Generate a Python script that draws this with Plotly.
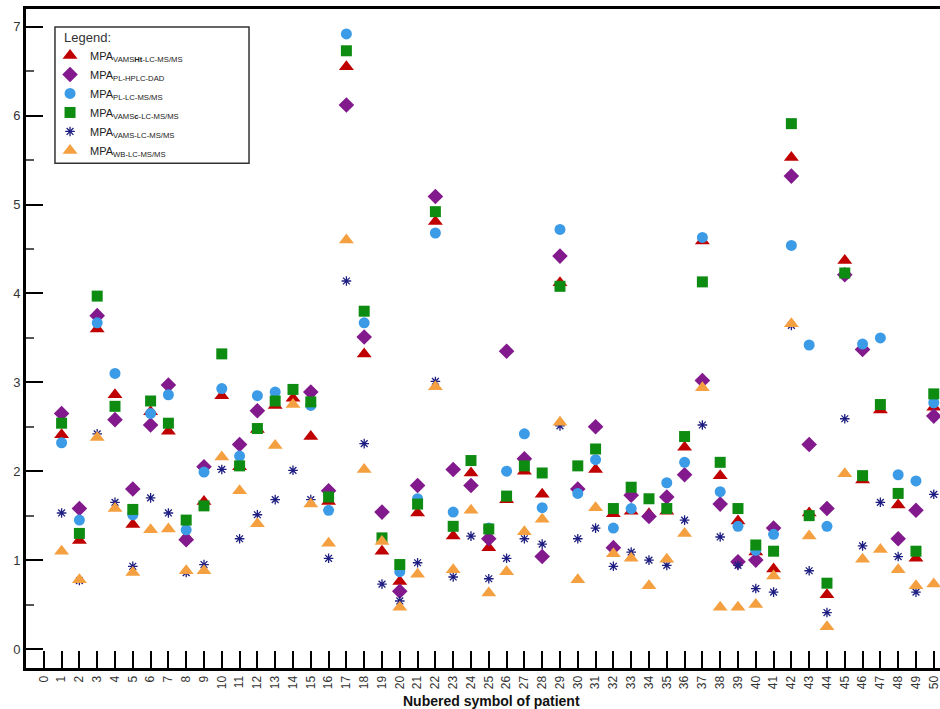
import plotly.graph_objects as go

patients = list(range(1, 51))
tick_vals = list(range(0, 51))
tick_text = [str(v) for v in tick_vals]
y_tick_vals = [0, 1, 2, 3, 4, 5, 6, 7]

# MPA VAMS Ht LC-MS/MS (red triangles)
vams_ht = [2.41, 1.22, 3.60, 2.86, 1.40, 2.67, 2.45, 1.26, 1.66, 2.85,
           2.05, 2.47, 2.74, 2.82, 2.39, 1.66, 6.55, 3.32, 1.10, 0.76,
           1.53, 4.81, 1.27, 1.98, 1.14, 1.68, 2.00, 1.74, 4.12, None,
           2.02, 1.52, 1.55, 1.52, 1.55, 2.27, 4.59, 1.95, 1.44, 1.09,
           0.90, 5.53, 1.53, 0.61, 4.37, 1.90, 2.69, 1.62, 1.02, 2.72]
# MPA PL HPLC-DAD (purple diamonds)
pl_hplc = [2.65, 1.58, 3.75, 2.58, 1.80, 2.52, 2.97, 1.23, 2.05, None,
           2.30, 2.68, None, None, 2.89, 1.78, 6.12, 3.51, 1.54, 0.65,
           1.84, 5.09, 2.02, 1.84, 1.24, 3.35, 2.14, 1.04, 4.42, 1.80,
           2.50, 1.14, 1.73, 1.49, 1.71, 1.96, 3.02, 1.63, 0.98, 1.00,
           1.36, 5.32, 2.30, 1.58, 4.21, 3.37, None, 1.24, 1.56, 2.62]
# MPA PL LC-MS/MS (blue circles)
pl_lcms = [2.32, 1.45, 3.67, 3.10, 1.51, 2.65, 2.86, 1.34, 1.99, 2.93,
           2.17, 2.85, 2.89, None, 2.74, 1.56, 6.92, 3.67, None, 0.87,
           1.69, 4.68, 1.54, None, 1.36, 2.00, 2.42, 1.59, 4.72, 1.75,
           2.13, 1.36, 1.58, None, 1.87, 2.10, 4.63, 1.77, 1.38, 1.11,
           1.29, 4.54, 3.42, 1.38, None, 3.43, 3.50, 1.96, 1.89, 2.77]
# MPA VAMS c LC-MS/MS (green squares)
vams_c = [2.54, 1.30, 3.97, 2.73, 1.57, 2.79, 2.54, 1.45, 1.61, 3.32,
          2.06, 2.48, 2.79, 2.92, 2.78, 1.71, 6.73, 3.80, 1.25, 0.95,
          1.63, 4.92, 1.38, 2.12, 1.35, 1.72, 2.06, 1.98, 4.08, 2.06,
          2.25, 1.58, 1.82, 1.69, 1.58, 2.39, 4.13, 2.10, 1.58, 1.17,
          1.10, 5.91, 1.50, 0.74, 4.23, 1.95, 2.75, 1.75, 1.10, 2.87]
# MPA VAMS LC-MS/MS (navy asterisks)
vams = [1.53, 0.77, 2.42, 1.65, 0.93, 1.70, 1.53, 0.86, 0.95, 2.02,
        1.24, 1.51, 1.68, 2.01, 1.68, 1.02, 4.14, 2.31, 0.73, 0.54,
        0.97, 3.01, 0.81, 1.27, 0.79, 1.02, 1.24, 1.18, 2.51, 1.24,
        1.36, 0.93, 1.09, 1.00, 0.94, 1.45, 2.52, 1.26, 0.94, 0.68,
        0.64, 3.64, 0.88, 0.41, 2.59, 1.16, 1.65, 1.04, 0.64, 1.74]
# MPA WB LC-MS/MS (orange triangles)
wb = [1.10, 0.78, 2.38, 1.58, 0.86, 1.34, 1.35, 0.88, 0.88, 2.16,
      1.78, 1.41, 2.29, 2.75, 1.63, 1.19, 4.60, 2.02, 1.21, 0.47,
      0.84, 2.95, 0.89, 1.56, 0.63, 0.87, 1.32, 1.46, 2.55, 0.78,
      1.59, 1.07, 1.02, 0.71, 1.01, 1.30, 2.94, 0.47, 0.47, 0.50,
      0.82, 3.66, 1.27, 0.25, 1.97, 1.01, 1.12, 0.89, 0.71, 0.73]

FONT = "Liberation Sans, Arial, sans-serif"

series = [
    ("MPA<sub>VAMS<b>Ht</b>-LC-MS/MS</sub>", vams_ht,
     dict(symbol="triangle-up", size=13, color="#C00000")),
    ("MPA<sub>PL-HPLC-DAD</sub>", pl_hplc,
     dict(symbol="diamond", size=12, color="#82198C")),
    ("MPA<sub>PL-LC-MS/MS</sub>", pl_lcms,
     dict(symbol="circle", size=11, color="#3C9BE6")),
    ("MPA<sub>VAMS<b>c</b>-LC-MS/MS</sub>", vams_c,
     dict(symbol="square", size=11, color="#0E8C12")),
    ("MPA<sub>VAMS-LC-MS/MS</sub>", vams,
     dict(symbol="asterisk-open", size=8, color="#1E1E82",
          line=dict(color="#1E1E82", width=1.3))),
    ("MPA<sub>WB-LC-MS/MS</sub>", wb,
     dict(symbol="triangle-up", size=13, color="#F5A040")),
]

fig = go.Figure()
for name, vals, mk in series:
    fig.add_trace(go.Scatter(x=patients, y=vals, mode="markers", name=name,
                             marker=mk, cliponaxis=False))

fig.update_layout(
    width=940, height=709,
    margin=dict(l=26, r=0, t=9, b=41),
    paper_bgcolor="white", plot_bgcolor="white",
    font=dict(family=FONT, color="#333333"),
    showlegend=True,
    legend=dict(
        x=0.0263, y=0.9515, xanchor="left", yanchor="top",
        borderwidth=0, bgcolor="rgba(255,255,255,0)",
        font=dict(size=11, color="#222222"),
        tracegroupgap=0,
    ),
    shapes=[dict(
        type="rect", xref="paper", yref="paper",
        x0=0.0317, x1=0.244, y0=0.766, y1=0.9727,
        line=dict(color="#333333", width=1.5), fillcolor="rgba(255,255,255,0)",
        layer="below",
    )],
    xaxis=dict(
        range=[-1, 50.35], tickmode="array", tickvals=tick_vals, ticktext=tick_text,
        ticks="inside", ticklen=17, tickwidth=2, tickcolor="black",
        tickangle=-90, tickfont=dict(size=12, color="#333333"),
        ticklabeloverflow="allow",
        showline=True, linewidth=3, linecolor="black", mirror=True,
        showgrid=False, zeroline=False, automargin=False,
    ),
    yaxis=dict(
        range=[-0.214, 7.2], tickmode="array", tickvals=y_tick_vals,
        ticks="inside", ticklen=17, tickwidth=2, tickcolor="black",
        tickfont=dict(size=13, color="#333333"),
        minor=dict(dtick=0.5, tick0=0, ticks="inside", ticklen=8, tickwidth=1.5,
                   tickcolor="#555555", showgrid=False),
        showline=True, linewidth=3, linecolor="black", mirror=False,
        showgrid=False, zeroline=False, automargin=False,
    ),
    annotations=[
        dict(text="<b>Nubered symbol of patient</b>", xref="paper", yref="paper",
             x=0.509, y=-0.050, xanchor="center", yanchor="middle", showarrow=False,
             font=dict(size=14, color="#111111", family=FONT)),
        dict(text="Legend:", xref="paper", yref="paper",
             x=0.0394, y=0.9575, xanchor="left", yanchor="middle", showarrow=False,
             font=dict(size=13, color="#333333", family=FONT)),
    ],
)

fig.write_html(
    "out.html",
    config={"displayModeBar": False},
    post_script="document.body.style.margin='0';document.body.style.overflow='hidden';",
)
